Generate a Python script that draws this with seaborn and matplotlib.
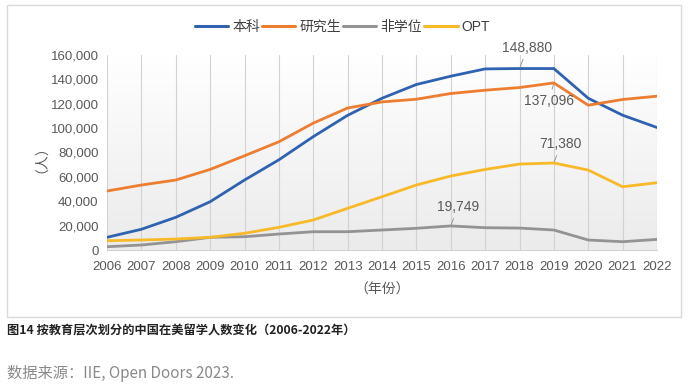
import numpy as np
import pandas as pd
import matplotlib
matplotlib.use("Agg")
import matplotlib.pyplot as plt
from matplotlib.patches import Rectangle
from matplotlib.colors import LinearSegmentedColormap
import seaborn as sns

years = list(range(2006, 2023))
undergrad = [10400, 17000, 26800, 39600, 57400, 74000, 93000, 110500, 124500, 135800,
             142600, 148600, 148880, 148880, 124500, 110600, 100500]
graduate = [48400, 53300, 57400, 66100, 77300, 88800, 104100, 116500, 121500, 123700,
            128400, 131100, 133300, 137096, 118800, 123500, 126200]
nondegree = [2700, 4100, 6800, 10400, 10900, 13100, 15000, 15000, 16400, 17800,
             19749, 18300, 18000, 16400, 8200, 6800, 8700]
opt = [7600, 8200, 9000, 10400, 13700, 18600, 24600, 34200, 43700, 53300,
       60700, 66100, 70500, 71380, 65600, 51900, 55200]
series_names = ["本科", "研究生", "非学位", "OPT"]
colors = ["#2f62b0", "#ed7d31", "#939393", "#f7b928"]
annotations = [("本科", 2018, 148880, (8, 21)),
               ("研究生", 2019, 137096, (-5, -18)),
               ("OPT", 2019, 71380, (7, 19)),
               ("非学位", 2016, 19749, (7, 19))]

df = pd.DataFrame({
    "year": years * 4,
    "value": undergrad + graduate + nondegree + opt,
    "series": sum([[n] * len(years) for n in series_names], []),
})

sns.set_style("white")
plt.rcParams["font.family"] = ["Liberation Sans", "Noto Sans CJK SC", "DejaVu Sans"]

fig = plt.figure(figsize=(6.91, 3.90), dpi=100)
W, H = 691, 390
ax = fig.add_axes([107 / W, 1 - 250 / H, 550 / W, 195 / H])

grad = np.linspace(0, 1, 256).reshape(-1, 1)
cmap = LinearSegmentedColormap.from_list("bg", ["#ffffff", "#ebebeb"])
ax.imshow(grad, aspect="auto", cmap=cmap, extent=[2006, 2022, 0, 160000],
          origin="upper", zorder=0)

sns.lineplot(data=df, x="year", y="value", hue="series", hue_order=series_names,
             palette=colors, linewidth=2.0, ax=ax, zorder=3)

ax.set_xlim(2006, 2022)
ax.set_ylim(0, 160000)
ax.set_xticks(years)
ax.set_yticks(range(0, 160001, 20000))
ax.yaxis.set_major_formatter(matplotlib.ticker.FuncFormatter(lambda v, p: f"{int(v):,}"))
ax.tick_params(axis="x", labelsize=9.5, colors="#595959", length=0, pad=8)
ax.tick_params(axis="y", labelsize=9.5, colors="#595959", length=0, pad=6)
ax.set_xlabel("")
ax.set_ylabel("")
for x in years:
    ax.axvline(x, color="#d2d2d2", lw=0.8, zorder=1)
for s in ["top", "right", "left"]:
    ax.spines[s].set_visible(False)
ax.spines["bottom"].set_color("#d2d2d2")
ax.spines["bottom"].set_linewidth(0.8)

ax.get_legend().remove()
handles = [plt.Line2D([], [], color=c, lw=2.2) for c in colors]
fig.legend(handles, series_names, loc="center", bbox_to_anchor=(342.5 / W, 1 - 27 / H),
           ncol=4, frameon=False, fontsize=10, handlelength=2.4, handletextpad=0.3,
           columnspacing=0.15, labelcolor="#404040")

for name, yr, val, off in annotations:
    ax.annotate(f"{val:,}", xy=(yr, val), xytext=off, textcoords="offset pixels",
                ha="center", va="center", fontsize=10, color="#595959", zorder=5,
                arrowprops=dict(arrowstyle="-", color="#8c8c8c", lw=0.6,
                                shrinkA=1, shrinkB=1))

fig.text(34 / W, 1 - 152 / H, "（人）", rotation=90, ha="center", va="center",
         fontsize=10, color="#595959")
fig.text(382 / W, 1 - 290 / H, "（年份）", ha="center", va="center",
         fontsize=10, color="#595959")

fig.patches.append(Rectangle((7 / W, 1 - 317 / H), 674 / W, 312 / H,
                             transform=fig.transFigure, fill=False,
                             edgecolor="#d9d9d9", lw=1.0))

fig.text(7 / W, 1 - 331 / H, "图14 按教育层次划分的中国在美留学人数变化（2006-2022年）",
         ha="left", va="center", fontsize=8.8, fontweight="bold", color="#222222",
         family=["Noto Sans CJK SC", "DejaVu Sans"])
fig.text(7 / W, 1 - 373 / H, "数据来源：IIE, Open Doors 2023.",
         ha="left", va="center", fontsize=11, color="#8a8a8a",
         family=["Noto Sans CJK SC", "DejaVu Sans"])

fig.savefig("out.png", dpi=100)
